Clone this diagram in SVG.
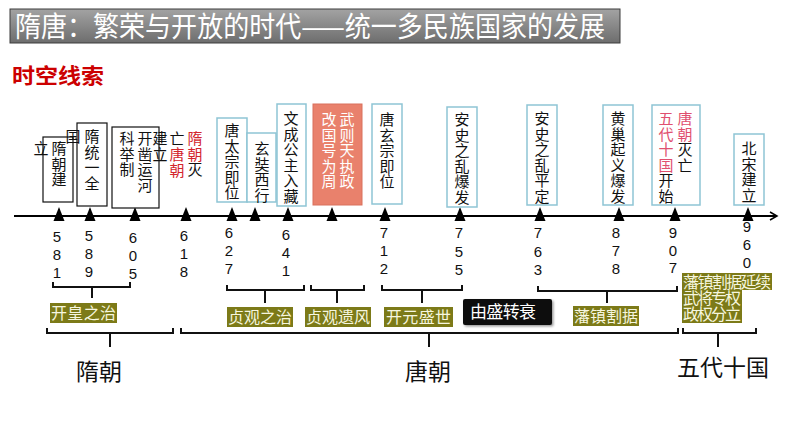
<svg xmlns="http://www.w3.org/2000/svg" width="794" height="447" viewBox="0 0 794 447">
<defs>
<linearGradient id="tg" x1="0" y1="0" x2="0" y2="1">
<stop offset="0" stop-color="#a3a3a3"/><stop offset="1" stop-color="#6d6d6d"/>
</linearGradient>
<marker id="arr" markerWidth="10" markerHeight="10" refX="8" refY="5" orient="auto" markerUnits="userSpaceOnUse">
<path d="M1,1 L8,5 L1,9" fill="none" stroke="#000" stroke-width="1.5"/>
</marker>
<path id="tri" d="M0,-9 L5.5,5 L-5.5,5 Z" fill="#000"/>
<filter id="sh" x="-10%" y="-10%" width="130%" height="140%"><feDropShadow dx="1.5" dy="1.5" stdDeviation="1" flood-color="#000" flood-opacity="0.4"/></filter>
</defs>
<style>
text{font-family:"Noto Sans CJK SC","Noto Sans",sans-serif;}
.v{writing-mode:vertical-rl;font-size:15px;letter-spacing:0.5px;fill:#111;}
.w{fill:#fff;}
.r{fill:#d3262d;}
.p{fill:#e0506f;}
.bk{fill:#fff;stroke:#111;stroke-width:1.2;}
.bl{fill:#fff;stroke:#8ec5d5;stroke-width:1.5;}
.yr{font-family:"Liberation Sans",Arial,sans-serif;font-size:15px;fill:#111;text-anchor:middle;}
.ol{fill:#7c7a18;}
.olt{font-size:16px;fill:#f6f6df;}
.br{fill:none;stroke:#111;stroke-width:2;}
.big{font-size:23px;fill:#111;text-anchor:middle;}
</style>
<rect width="794" height="447" fill="#fff"/>
<g id="title">
<rect x="10" y="9" width="610" height="34" fill="url(#tg)" stroke="#3c3c3c" stroke-width="1"/>
<text x="15" y="37" font-size="28" fill="#fff" textLength="590" lengthAdjust="spacingAndGlyphs">隋唐：繁荣与开放的时代——统一多民族国家的发展</text>
</g>
<g id="subtitle"><text x="12" y="83" font-size="21" fill="#cc0000" font-weight="bold" textLength="92" lengthAdjust="spacingAndGlyphs">时空线索</text></g>
<g id="connectors">
<line x1="14" y1="216" x2="777" y2="216" stroke="#000" stroke-width="2" marker-end="url(#arr)"/>
<use href="#tri" x="59" y="216"/><use href="#tri" x="90" y="216"/><use href="#tri" x="135" y="216"/><use href="#tri" x="186" y="216"/>
<use href="#tri" x="232" y="216"/><use href="#tri" x="255" y="216"/><use href="#tri" x="288" y="216"/><use href="#tri" x="332" y="216"/>
<use href="#tri" x="385" y="216"/><use href="#tri" x="460" y="216"/><use href="#tri" x="540" y="216"/><use href="#tri" x="619" y="216"/>
<use href="#tri" x="675" y="216"/><use href="#tri" x="748" y="216"/>
<path class="br" d="M53,282 V287 H130 V282 M92,287 V298"/>
<path class="br" d="M227,285 V290 H304 V285 M265,290 V303"/>
<path class="br" d="M311,285 V290 H364 V285 M337,290 V303"/>
<path class="br" d="M382,285 V290 H462 V285 M422,290 V303"/>
<path class="br" d="M538,286 V291 H677 V286 M607,291 V303"/>
<path class="br" d="M47,328 V333 H173 V328 M110,333 V347"/>
<path class="br" d="M181,328 V333 H678 V328 M429,333 V347"/>
<path class="br" d="M683,328 V333 H756 V328 M718,333 V347"/>
</g>
<g id="years">
<text class="yr" x="57" y="242">5<tspan x="57" dy="18">8</tspan><tspan x="57" dy="18">1</tspan></text>
<text class="yr" x="89" y="241">5<tspan x="89" dy="18">8</tspan><tspan x="89" dy="18">9</tspan></text>
<text class="yr" x="133" y="243">6<tspan x="133" dy="18">0</tspan><tspan x="133" dy="18">5</tspan></text>
<text class="yr" x="184" y="241">6<tspan x="184" dy="18">1</tspan><tspan x="184" dy="18">8</tspan></text>
<text class="yr" x="229" y="238">6<tspan x="229" dy="18">2</tspan><tspan x="229" dy="18">7</tspan></text>
<text class="yr" x="286" y="240">6<tspan x="286" dy="18">4</tspan><tspan x="286" dy="18">1</tspan></text>
<text class="yr" x="384" y="238">7<tspan x="384" dy="18">1</tspan><tspan x="384" dy="18">2</tspan></text>
<text class="yr" x="459" y="238">7<tspan x="459" dy="19">5</tspan><tspan x="459" dy="18">5</tspan></text>
<text class="yr" x="538" y="238">7<tspan x="538" dy="19">6</tspan><tspan x="538" dy="18">3</tspan></text>
<text class="yr" x="616" y="238">8<tspan x="616" dy="18">7</tspan><tspan x="616" dy="18">8</tspan></text>
<text class="yr" x="673" y="238">9<tspan x="673" dy="18">0</tspan><tspan x="673" dy="17">7</tspan></text>
<text class="yr" x="747" y="232">9<tspan x="747" dy="18">6</tspan><tspan x="747" dy="18">0</tspan></text>
</g>
<g id="n581"><rect class="bk" x="43" y="137" width="30" height="65"/>
<text class="v" x="59" y="141">隋朝建</text><text class="v" x="41" y="141">立</text></g>
<g id="n589"><rect class="bk" x="77" y="123" width="30" height="83"/>
<text class="v" x="92" y="129">隋统一全</text><text class="v" x="73" y="129">国</text></g>
<g id="n605"><rect class="bk" x="112" y="127" width="47" height="81"/>
<text class="v" x="145" y="131">开凿运河</text><text class="v" x="127" y="131">科举制</text></g>
<g id="n618">
<text class="v" x="195" y="131"><tspan class="r">隋朝</tspan>灭</text>
<text class="v" x="177" y="131">亡<tspan class="r">唐朝</tspan></text>
<text class="v" x="160" y="131">建立</text></g>
<g id="n627"><rect class="bl" x="217" y="118" width="30" height="84"/><text class="v" x="232" y="123">唐太宗即位</text></g>
<g id="nxz"><rect class="bl" x="247" y="133" width="29" height="69"/><text class="v" x="262" y="141">玄奘西行</text></g>
<g id="n641"><rect class="bl" x="277" y="104" width="29" height="102"/><text class="v" x="291" y="111">文成公主入藏</text></g>
<g id="nwzt"><rect x="313" y="104" width="49" height="101" fill="#e9816c" stroke="#d9705c" stroke-width="1"/>
<text class="v w" x="347" y="112">武则天执政</text><text class="v w" x="329" y="112">改国号为周</text></g>
<g id="n712"><rect class="bl" x="372" y="104" width="30" height="100"/><text class="v" x="387" y="112">唐玄宗即位</text></g>
<g id="n755"><rect class="bl" x="447" y="107" width="30" height="100"/><text class="v" x="462" y="112">安史之乱爆发</text></g>
<g id="n763"><rect class="bl" x="527" y="105" width="30" height="100"/><text class="v" x="542" y="111">安史之乱平定</text></g>
<g id="n878"><rect class="bl" x="603" y="105" width="30" height="100"/><text class="v" x="618" y="111">黄巢起义爆发</text></g>
<g id="n907"><rect class="bl" x="652" y="105" width="48" height="100"/>
<text class="v" x="685" y="111"><tspan class="p">唐朝</tspan>灭亡</text>
<text class="v" x="666" y="111"><tspan class="p">五代十国</tspan>开始</text></g>
<g id="n960"><rect class="bl" x="734" y="134" width="30" height="71"/><text class="v" x="749" y="141">北宋建立</text></g>
<g id="kh"><rect class="ol" x="50" y="303" width="67" height="20"/><text class="olt" x="51" y="319" textLength="65">开皇之治</text></g>
<g id="zgzz"><rect class="ol" x="227" y="307" width="66" height="20"/><text class="olt" x="228" y="323" textLength="64">贞观之治</text></g>
<g id="zgyf"><rect class="ol" x="305" y="307" width="66" height="20"/><text class="olt" x="306" y="323" textLength="64">贞观遗风</text></g>
<g id="kyss"><rect class="ol" x="384" y="307" width="69" height="20"/><text class="olt" x="386" y="323" textLength="65">开元盛世</text></g>
<g id="ysz"><rect x="463" y="299" width="89" height="26" rx="2" fill="#0b0b0b" filter="url(#sh)"/><text x="470" y="318" font-size="17" fill="#fff" textLength="66">由盛转衰</text></g>
<g id="fzgj"><rect class="ol" x="573" y="306" width="66" height="20"/><text class="olt" x="574" y="322" textLength="64">藩镇割据</text></g>
<g id="wdsg"><rect class="ol" x="682" y="273" width="90" height="17"/><rect class="ol" x="682" y="289" width="60" height="34"/>
<text class="olt" x="683" y="288" font-size="15"><tspan x="683" textLength="88">藩镇割据延续</tspan><tspan x="683" dy="16" textLength="58">武将专权</tspan><tspan x="683" dy="16" textLength="58">政权分立</tspan></text></g>
<g id="sui"><text class="big" x="99" y="380">隋朝</text></g>
<g id="tang"><text class="big" x="428" y="380">唐朝</text></g>
<g id="wd"><text class="big" x="723" y="376">五代十国</text></g>
</svg>
